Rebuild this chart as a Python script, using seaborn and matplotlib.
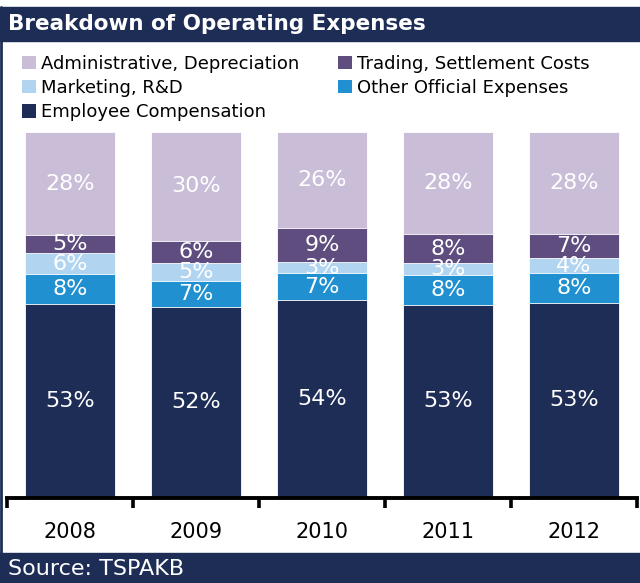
import matplotlib
matplotlib.use("Agg")
import matplotlib.pyplot as plt
from matplotlib.patches import Patch, Rectangle
from matplotlib.lines import Line2D
import numpy as np
import seaborn as sns

# Operating expense shares by year (%), bottom segment first
years = ["2008", "2009", "2010", "2011", "2012"]
employee = [53.0, 52.2, 54.0, 52.8, 53.3]
other_official = [8.2, 7.0, 7.4, 8.1, 8.2]
marketing = [5.6, 5.0, 2.9, 3.2, 3.9]
trading = [4.9, 6.0, 9.3, 7.9, 6.6]
administrative = [28.3, 29.8, 26.4, 28.0, 28.0]

series_names = ["Employee Compensation", "Other Official Expenses", "Marketing, R&D",
                "Trading, Settlement Costs", "Administrative, Depreciation"]
series_values = [employee, other_official, marketing, trading, administrative]

navy = "#1E2D56"
colors = {
    "Employee Compensation": navy,
    "Other Official Expenses": "#2090D0",
    "Marketing, R&D": "#B1D4F0",
    "Trading, Settlement Costs": "#5E4D7E",
    "Administrative, Depreciation": "#C9BDD8",
}

sns.set_theme(style="white")
plt.rcParams["font.family"] = ["DejaVu Sans"]
plt.rcParams["text.color"] = "black"

W, H = 640, 583
fig = plt.figure(figsize=(W / 100, H / 100), dpi=100)
fig.patch.set_facecolor("white")

# axes placed in pixel terms
left_px, right_px, bottom_px, top_px = 7, 637, 497.5, 132
ax = fig.add_axes([left_px / W, 1 - bottom_px / H,
                   (right_px - left_px) / W, (bottom_px - top_px) / H])

vals = np.array(series_values)
cums = np.cumsum(vals, axis=0)

# stacked bars: draw cumulative layers from the top down so each one covers the rest
for k in range(len(series_names) - 1, -1, -1):
    sns.barplot(x=years, y=cums[k], color=colors[series_names[k]], width=0.71,
                edgecolor="white", linewidth=0.6, errorbar=None, ax=ax,
                saturation=1)

# segment labels
for k in range(len(series_names)):
    for i in range(len(years)):
        below = cums[k - 1][i] if k > 0 else 0.0
        v = vals[k][i]
        ax.text(i, below + v / 2, f"{v:.0f}%", ha="center", va="center",
                color="white", fontsize=16)

ax.set_xlim(-0.5, len(years) - 0.5)
ax.set_ylim(0, 100)
ax.set_ylabel("")
ax.set_xlabel("")
ax.set_yticks([])
for s in ["left", "right", "top"]:
    ax.spines[s].set_visible(False)
ax.spines["bottom"].set_color("black")
ax.spines["bottom"].set_linewidth(2.8)
ax.set_xticks(range(len(years)))
ax.set_xticklabels(years, fontsize=15, color="black")
ax.tick_params(axis="x", which="major", length=0, pad=18, bottom=True)
ax.set_xticks(np.arange(-0.5, len(years)), minor=True)
ax.tick_params(axis="x", which="minor", length=7, width=2.6, color="black",
               direction="out", bottom=True)
ax.patch.set_alpha(0)

# header band
fig.patches.append(Rectangle((0, 1 - 41 / H), 1, 34 / H, transform=fig.transFigure,
                             color=navy, zorder=0))
fig.text(8 / W, 1 - 24.5 / H, "Breakdown of Operating Expenses", color="white",
         fontsize=15.5, fontweight="bold", ha="left", va="center")

# footer band
fig.patches.append(Rectangle((0, 0), 1, 30 / H, transform=fig.transFigure,
                             color=navy, zorder=0))
fig.text(8 / W, 14 / H, "Source: TSPAKB", color="white", fontsize=16,
         ha="left", va="center")

# left frame line
fig.lines.append(Line2D([1 / W, 1 / W], [0, 1 - 7 / H], transform=fig.transFigure,
                        color=navy, linewidth=2))

# legend (column-major: left column then right column)
order = ["Administrative, Depreciation", "Marketing, R&D", "Employee Compensation",
         "Trading, Settlement Costs", "Other Official Expenses"]
handles = [Patch(facecolor=colors[n], edgecolor="none", label=n) for n in order]
leg = fig.legend(handles=handles, loc="upper left", bbox_to_anchor=(22 / W, 1 - 55 / H),
                 ncol=2, frameon=False, fontsize=13, handlelength=0.75,
                 handleheight=0.75, handletextpad=0.3, columnspacing=2.15,
                 labelspacing=0.34, borderaxespad=0, borderpad=0)
for t in leg.get_texts():
    t.set_color("black")

fig.savefig("out.png", dpi=100, facecolor="white")
